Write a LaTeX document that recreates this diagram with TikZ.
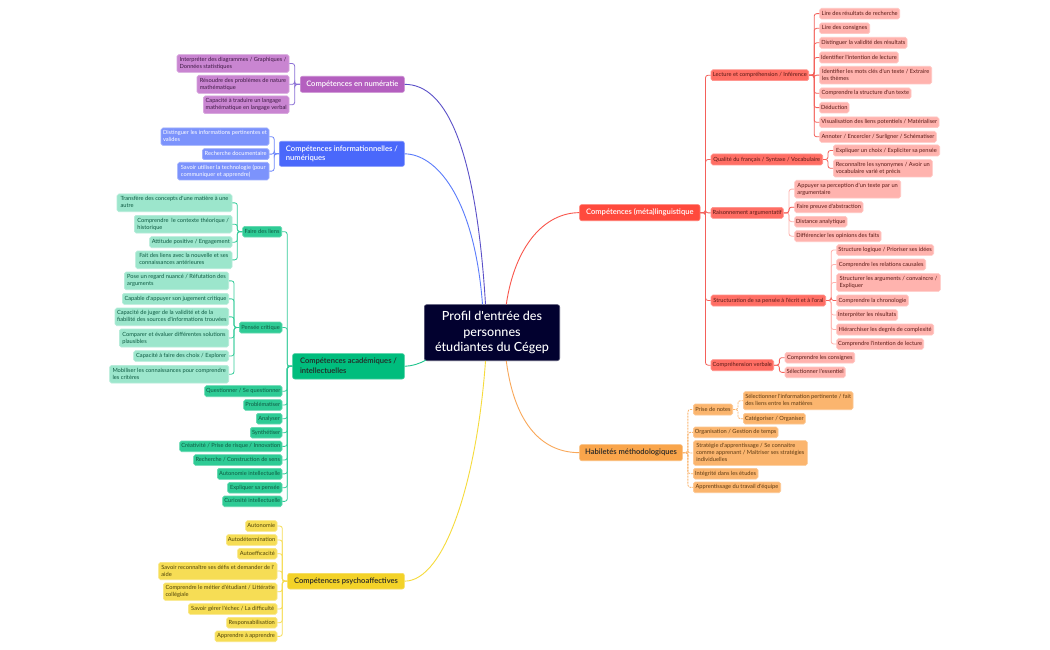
\documentclass[tikz,border=0pt]{standalone}
\usepackage{fontspec}
\usetikzlibrary{calc}
\newfontfamily\bodyfont{Lato}
\newfontfamily\medfont{Lato Medium}
\newfontfamily\semifont{Lato Semibold}
\definecolor{rootc}{HTML}{02012F}
\definecolor{redM}{HTML}{FF4A3D}\definecolor{redS}{HTML}{FF6E64}\definecolor{redL}{HTML}{FFB3AE}\definecolor{redT}{HTML}{5A1A16}\definecolor{redN}{HTML}{F4605A}
\definecolor{oraM}{HTML}{F9A54B}\definecolor{oraL}{HTML}{FBB56E}\definecolor{oraT}{HTML}{5E3A12}\definecolor{oraN}{HTML}{FBB56E}
\definecolor{purM}{HTML}{B45FBF}\definecolor{purL}{HTML}{C985D1}\definecolor{purT}{HTML}{3F1A45}\definecolor{purN}{HTML}{8A6FD6}
\definecolor{bluM}{HTML}{4A68FB}\definecolor{bluL}{HTML}{7C93FC}\definecolor{bluN}{HTML}{6F88FB}
\definecolor{greM}{HTML}{00BD7D}\definecolor{greS}{HTML}{2ECB95}\definecolor{greL}{HTML}{9CE6CC}\definecolor{greT}{HTML}{0E5A42}\definecolor{greN}{HTML}{35CC9A}
\definecolor{yelM}{HTML}{F3D228}\definecolor{yelL}{HTML}{F6DD55}\definecolor{yelT}{HTML}{4F4308}\definecolor{yelN}{HTML}{F6DD55}
\definecolor{curP}{HTML}{5B50C8}\definecolor{curB}{HTML}{5B7CFB}\definecolor{curR}{HTML}{F9564C}\definecolor{curO}{HTML}{F9A85A}\definecolor{curY}{HTML}{F6DB3C}\definecolor{curG}{HTML}{1CC48C}
\tikzset{
  box/.style={rounded corners=1.8pt,inner sep=0pt,align=left,anchor=center,line width=0.6pt},
  leaf/.style={box,font=\bodyfont\fontsize{5.7}{7}\selectfont},
  main/.style={box,rounded corners=2.2pt,font=\semifont\fontsize{7.6}{9.4}\selectfont},
  rootbox/.style={box,rounded corners=2.5pt,fill=rootc,draw=rootc!70!white,text=white,align=center,font=\medfont\fontsize{12.6}{15.3}\selectfont},
  rM/.style={main,fill=redM,draw=redM!75!white,text=white},
  rS/.style={leaf,fill=redS,draw=redS!75!white,text=redT},
  rL/.style={leaf,fill=redL,draw=redL!75!white,text=redT},
  oM/.style={main,fill=oraM,draw=oraM!75!white,text=black!85},
  oL/.style={leaf,fill=oraL,draw=oraL!75!white,text=oraT},
  pM/.style={main,fill=purM,draw=purM!75!white,text=white},
  pL/.style={leaf,fill=purL,draw=purL!75!white,text=purT},
  bM/.style={main,fill=bluM,draw=bluM!75!white,text=white},
  bL/.style={leaf,fill=bluL,draw=bluL!75!white,text=white},
  gM/.style={main,fill=greM,draw=greM!75!white,text=black!85},
  gS/.style={leaf,fill=greS,draw=greS!75!white,text=greT},
  gL/.style={leaf,fill=greL,draw=greL!75!white,text=greT},
  yM/.style={main,fill=yelM,draw=yelM!75!white,text=black!85},
  yL/.style={leaf,fill=yelL,draw=yelL!75!white,text=yelT},
  conn/.style={line width=0.8pt,rounded corners=2.5pt},
  curve/.style={line width=0.9pt},
}
\newcommand\bx[7]{%
  \pgfmathsetmacro\cx{(#3+#5)/2}\pgfmathsetmacro\cy{(#4+#6)/2}%
  \pgfmathsetmacro\bw{#5-#3-0.6}\pgfmathsetmacro\bh{#6-#4-0.6}%
  \node[#1,minimum width=\bw pt,minimum height=\bh pt] (#2) at (\cx,\cy) {\vphantom{Ag}#7\vphantom{Ag}};}
% right-hand bracket: parent east to child west
\newcommand\rlnk[3]{\foreach \c in {#3}{\draw[conn,#1] (#2.east) -- ($(#2.east)!.5!(\c.west |- #2.east)$) |- (\c.west);}}
% left-hand bracket: parent west to child east
\newcommand\llnk[3]{\foreach \c in {#3}{\draw[conn,#1] (#2.west) -- ($(#2.west)!.5!(\c.east |- #2.west)$) |- (\c.east);}}
\begin{document}
\begin{tikzpicture}[x=1pt,y=-1pt]
\useasboundingbox (0,0) rectangle (1050,650);
\fill[white] (0,0) rectangle (1050,650);
% root
\bx{rootbox}{root}{424}{304.3}{560}{361}{Profil d'entrée des\\personnes\\étudiantes du Cégep}
% red
\bx{rM}{ling}{579.3}{204.3}{700.3}{221}{Compétences (méta)linguistique}
\bx{rS}{lect}{710.7}{69.5}{809}{81}{Lecture et compréhension / Inférence}
\bx{rL}{la}{819.3}{8}{900}{19.3}{Lire des résultats de recherche}
\bx{rL}{lb}{819.3}{22.7}{870}{34}{Lire des consignes}
\bx{rL}{lc}{819.3}{37}{907.3}{48.7}{Distinguer la validité des résultats}
\bx{rL}{ld}{819.3}{51.7}{898.7}{63.3}{Identifier l'intention de lecture}
\bx{rL}{le}{819.3}{66}{932}{84.3}{Identifier les mots clés d'un texte / Extraire\\les thèmes}
\bx{rL}{lf}{819.3}{87.7}{911.3}{99}{Comprendre la structure d'un texte}
\bx{rL}{lg}{819.3}{102}{849.3}{113.3}{Déduction}
\bx{rL}{lh}{819.3}{116.7}{939.3}{128}{Visualisation des liens potentiels / Matérialiser}
\bx{rL}{li}{819.3}{131}{936.7}{142.7}{Annoter / Encercler / Surligner / Schématiser}
\bx{rS}{qual}{710.7}{153.7}{823}{165.3}{Qualité du français / Syntaxe / Vocabulaire}
\bx{rL}{qa}{833}{144.7}{940}{156.3}{Expliquer un choix / Expliciter sa pensée}
\bx{rL}{qb}{833}{159.3}{932.7}{177.3}{Reconnaître les synonymes / Avoir un\\vocabulaire varié et précis}
\bx{rS}{rais}{710.7}{207}{783.7}{218.7}{Raisonnement argumentatif}
\bx{rL}{ra}{794.3}{180}{901}{198.3}{Appuyer sa perception d'un texte par un\\argumentaire}
\bx{rL}{rb}{794.3}{201.3}{863.3}{213}{Faire preuve d'abstraction}
\bx{rL}{rc}{794.3}{216}{847.3}{227.3}{Distance analytique}
\bx{rL}{rd}{794.3}{230.3}{881.3}{242}{Différencier les opinions des faits}
\bx{rS}{stru}{710.7}{294.7}{826}{306.3}{Structuration de sa pensée à l'écrit et à l'oral}
\bx{rL}{sa}{836.3}{244.3}{934}{255.7}{Structure logique / Prioriser ses idées}
\bx{rL}{sb}{836.3}{258.7}{926}{270.3}{Comprendre les relations causales}
\bx{rL}{sc}{836.3}{273.3}{940.7}{291.7}{Structurer les arguments / convaincre /\\Expliquer}
\bx{rL}{sd}{836.3}{294.7}{908.7}{306.3}{Comprendre la chronologie}
\bx{rL}{se}{836.3}{309.3}{898}{320.7}{Interpréter les résultats}
\bx{rL}{sf}{836.3}{323.7}{934}{335.3}{Hiérarchiser les degrés de complexité}
\bx{rL}{sg}{836.3}{338.3}{924}{349.7}{Comprendre l'intention de lecture}
\bx{rS}{verb}{710.7}{359.3}{774}{371}{Compréhension verbale}
\bx{rL}{va}{784.7}{352}{855}{363.3}{Comprendre les consignes}
\bx{rL}{vb}{784.7}{366.7}{845.7}{378}{Sélectionner l'essentiel}
% orange
\bx{oM}{meth}{579.3}{444.3}{682.7}{461}{Habiletés méthodologiques}
\bx{oL}{pn}{693}{403.7}{733}{415.3}{Prise de notes}
\bx{oL}{pa}{743}{391.3}{853.3}{410}{Sélectionner l'information pertinente / fait\\des liens entre les matières}
\bx{oL}{pb}{743}{413}{805.7}{424.3}{Catégoriser / Organiser}
\bx{oL}{ob}{693}{426.7}{778.3}{438}{Organisation / Gestion de temps}
\bx{oL}{oc}{693}{440.3}{807.7}{465.7}{Stratégie d'apprentissage / Se connaitre\\comme apprenant / Maîtriser ses stratégies\\individuelles}
\bx{oL}{od}{693}{468}{758.3}{479.3}{Intégrité dans les études}
\bx{oL}{oe}{693}{481.7}{781}{493}{Apprentissage du travail d'équipe}
% purple
\bx{pM}{num}{300}{76}{404.7}{92.7}{Compétences en numératie}
\bx{pL}{na}{176.7}{54.3}{289.3}{72.7}{Interpréter des diagrammes / Graphiques /\\Données statistiques}
\bx{pL}{nb}{196.7}{75}{289.3}{93.7}{Résoudre des problèmes de nature\\mathématique}
\bx{pL}{nc}{203}{95.7}{289.3}{114}{Capacité à traduire un langage\\mathématique en langage verbal}
% blue
\bx{bM}{info}{279}{141}{404.7}{166.7}{Compétences informationnelles /\\numériques}
\bx{bL}{ia}{160.7}{127.7}{269.3}{145.7}{Distinguer les informations pertinentes et\\valides}
\bx{bL}{ib}{202}{148.3}{269.3}{160}{Recherche documentaire}
\bx{bL}{ic}{177.3}{162}{269.3}{180.3}{Savoir utiliser la technologie (pour\\communiquer et apprendre)}
% green
\bx{gM}{acad}{292.3}{353.3}{404.7}{379.3}{Compétences académiques /\\intellectuelles}
\bx{gS}{liens}{242.3}{226}{282}{237.3}{Faire des liens}
\bx{gL}{fa}{116.7}{193.7}{232.3}{212}{Transfère des concepts d'une matière à une\\autre}
\bx{gL}{fb}{134}{215}{232.3}{233.3}{Comprendre\ \ le contexte théorique /\\historique}
\bx{gL}{fc}{149.3}{236.3}{232.3}{248}{Attitude positive / Engagement}
\bx{gL}{fd}{135.3}{250.7}{232.3}{269}{Fait des liens avec la nouvelle et ses\\connaissances antérieures}
\bx{gS}{crit}{239}{321.7}{282.3}{333.3}{Pensée critique}
\bx{gL}{ca}{124}{271.7}{229}{290}{Pose un regard nuancé / Réfutation des\\arguments}
\bx{gL}{cb}{122}{293}{229}{304.7}{Capable d'appuyer son jugement critique}
\bx{gL}{cc}{114.7}{307.7}{229}{326}{Capacité de juger de la validité et de la\\fiabilité des sources d'informations trouvées}
\bx{gL}{cd}{119}{328.7}{229}{347.3}{Comparer et évaluer différentes solutions\\plausibles}
\bx{gL}{ce}{133.3}{350.3}{229}{361.7}{Capacité à faire des choix / Explorer}
\bx{gL}{cf}{109.3}{365}{229}{383.3}{Mobiliser les connaissances pour comprendre\\les critères}
\bx{gS}{ga}{204.3}{385.3}{282.3}{397}{Questionner / Se questionner}
\bx{gS}{gb}{243.3}{399.3}{282.3}{410.7}{Problématiser}
\bx{gS}{gc}{256}{413}{282.3}{424.3}{Analyser}
\bx{gS}{gd}{250}{427}{282.3}{438.3}{Synthétiser}
\bx{gS}{ge}{179.3}{440.7}{282.3}{452}{Créativité / Prise de risque / Innovation}
\bx{gS}{gf}{193.3}{454.3}{282.3}{465.7}{Recherche / Construction de sens}
\bx{gS}{gg}{217}{468}{282.3}{479.7}{Autonomie intellectuelle}
\bx{gS}{gh}{227.3}{482}{282.3}{493.3}{Expliquer sa pensée}
\bx{gS}{gi}{222.3}{495.7}{282.3}{507}{Curiosité intellectuelle}
% yellow
\bx{yM}{psy}{287.3}{573}{404.7}{589.3}{Compétences psychoaffectives}
\bx{yL}{ya}{245.3}{520.3}{277.3}{531.7}{Autonomie}
\bx{yL}{yb}{226}{534.3}{277.3}{545.7}{Autodétermination}
\bx{yL}{yc}{237.3}{548}{277.3}{559.3}{Autoefficacité}
\bx{yL}{yd}{158.3}{562}{277.3}{580}{Savoir reconnaître ses défis et demander de l'\\aide}
\bx{yL}{ye}{163}{582.7}{277.3}{600.7}{Comprendre le métier d'étudiant / Littératie\\collégiale}
\bx{yL}{yf}{188}{603.3}{277.3}{614.7}{Savoir gérer l'échec / La difficulté}
\bx{yL}{yg}{226.3}{617}{277.3}{628.3}{Responsabilisation}
\bx{yL}{yh}{214.7}{630.7}{277.3}{642}{Apprendre à apprendre}
% brackets
\rlnk{redN}{ling}{lect,qual,rais,stru,verb}
\rlnk{redN}{lect}{la,lb,lc,ld,le,lf,lg,lh,li}
\rlnk{redN}{qual}{qa,qb}
\rlnk{redL}{rais}{ra,rc,rd,rb}
\rlnk{redN}{rais}{rb}
\rlnk{redL}{stru}{sa,sb,sc,se,sf,sg}
\rlnk{redN}{stru}{sd}
\rlnk{redN}{verb}{va,vb}
\rlnk{oraN,dash pattern=on 2pt off 1pt}{meth}{pn,ob,oc,od,oe}
\rlnk{oraN,dash pattern=on 2pt off 1pt}{pn}{pa,pb}
\llnk{purN}{num}{na,nb,nc}
\llnk{bluN}{info}{ia,ib,ic}
\llnk{greN}{acad}{liens,crit,ga,gb,gc,gd,ge,gf,gg,gh,gi}
\llnk{greN}{liens}{fa,fb,fc,fd}
\llnk{greN}{crit}{ca,cb,cc,cd,ce,cf}
\llnk{yelN}{psy}{ya,yb,yc,yd,ye,yf,yg,yh}
% main curves
\coordinate (rn) at (485.5,304.3);
\coordinate (ri) at (482.5,304.3);
\coordinate (rr) at (506.3,304.3);
\coordinate (ry) at (485.5,361);
\coordinate (ro) at (506.3,361);
\coordinate (rg) at (426,360);
\draw[curve,color=curP] (num.east) .. controls (447,84.3) and (476,150) .. (rn);
\draw[curve,color=curB] (info.east) .. controls (435,154) and (474,195) .. (ri);
\draw[curve,color=curR] (ling.west) .. controls (545,212.7) and (515,245) .. (rr);
\draw[curve,color=curO] (meth.west) .. controls (545,452.7) and (515,428) .. (ro);
\draw[curve,color=curY] (psy.east) .. controls (445,581) and (477,480) .. (ry);
\draw[curve,color=curG] (acad.east) .. controls (412,366) and (419,364) .. (rg);
\end{tikzpicture}
\end{document}
